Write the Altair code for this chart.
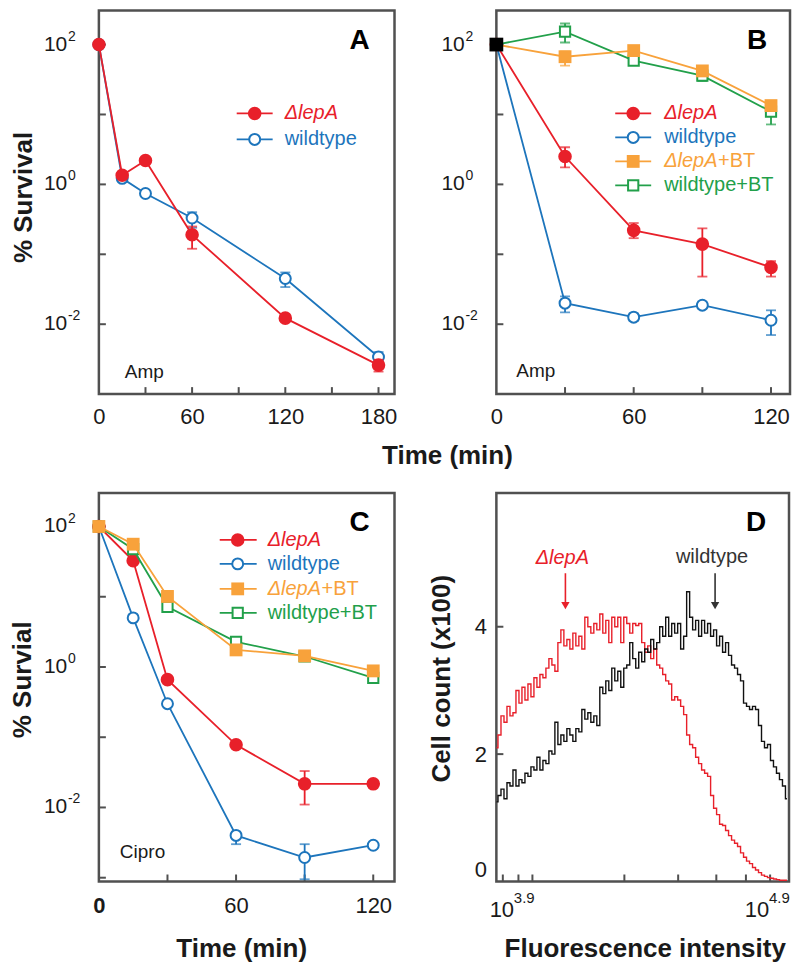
import altair as alt
import pandas as pd
import numpy as np

FONT = "Liberation Sans"
RED = "#E8202A"
BLUE = "#1D75BC"
ORANGE = "#F8A23B"
GREEN = "#22A04A"
INK = "#1A1A1A"
FRAME = "#505050"

# ---------------- Panel A (Amp) ----------------
a_time = [0, 15, 30, 60, 120, 180]
a_lep = [100, 1.35, 2.2, 0.19, 0.0122, 0.0026]
a_lep_lo = [None, None, None, 0.12, None, 0.0021]
a_lep_hi = [None, None, None, 0.25, None, 0.0031]
a_wt = [100, 1.22, 0.74, 0.33, 0.045, 0.0034]
a_wt_lo = [None, None, None, 0.24, 0.034, 0.0029]
a_wt_hi = [None, None, None, 0.40, 0.055, 0.0040]

# ---------------- Panel B (Amp, +BT) ----------------
b_time = [0, 30, 60, 90, 120]
b_lep = [100, 2.5, 0.22, 0.14, 0.065]
b_lep_lo = [None, 1.75, 0.17, 0.048, 0.048]
b_lep_hi = [None, 3.4, 0.28, 0.235, 0.08]
b_wt = [100, 0.020, 0.0126, 0.0187, 0.0114]
b_wt_lo = [None, 0.0148, 0.0112, 0.0168, 0.0070]
b_wt_hi = [None, 0.025, 0.0142, 0.0210, 0.0158]
b_lepbt = [100, 67, 82, 42, 13.4]
b_lepbt_lo = [None, 50, 75, 38, 12]
b_lepbt_hi = [None, 80, 90, 46, 15]
b_wtbt = [100, 153, 59, 36, 11]
b_wtbt_lo = [None, 107, 55, 30, 7.2]
b_wtbt_hi = [None, 200, 63, 40, 12]
b_start_time = [0]
b_start_val = [100]

# ---------------- Panel C (Cipro) ----------------
c_time = [0, 15, 30, 60, 90, 120]
c_lep = [100, 32.5, 0.66, 0.078, 0.0217, 0.0217]
c_lep_lo = [None, None, None, None, 0.011, None]
c_lep_hi = [None, None, None, None, 0.033, None]
c_wt = [100, 5.0, 0.30, 0.0040, 0.00194, 0.0029]
c_wt_lo = [None, None, None, 0.0030, 0.00095, None]
c_wt_hi = [None, None, None, 0.0045, 0.0030, None]
c_lepbt = [100, 56, 10.1, 1.75, 1.44, 0.88]
c_wtbt = [100, 47.5, 7.2, 2.28, 1.41, 0.70]
c_none = [None] * 6

# ---------------- Panel D (flow cytometry histogram) ----------------
d_bins_log = np.linspace(3.8824, 4.8333, 98)  # log10 fluorescence bin centres
d_red = [2.10, 2.30, 2.60, 2.50, 2.75, 2.60, 2.65, 3.00, 2.80, 3.05,
         2.85, 3.10, 2.90, 3.20, 3.05, 3.25, 3.20, 3.35, 3.50, 3.40,
         3.30, 3.75, 3.95, 3.70, 3.80,
         3.65, 3.90, 3.70, 3.85, 3.65, 4.15, 4.00, 3.90, 4.05, 3.95,
         4.20, 3.90, 4.10, 3.75, 4.15, 4.00, 4.15, 3.75, 4.15, 4.05,
         3.90, 4.05, 4.02, 4.05,
         3.75, 3.60, 3.70, 3.50, 3.65, 3.40, 3.35, 3.25, 3.15, 3.10,
         2.85, 2.90, 2.85, 2.75, 2.62, 2.30, 2.15, 2.10, 1.95, 1.85,
         1.75, 1.70, 1.65, 1.35,
         1.15, 1.05, 0.90, 0.88, 0.80, 0.72, 0.65, 0.60, 0.55, 0.45,
         0.38, 0.32, 0.28, 0.22, 0.18, 0.14, 0.10, 0.08, 0.06, 0.05,
         0.04, 0.03, 0.02, 0.02, 0.02]
d_black = [1.25, 1.35, 1.45, 1.30, 1.55, 1.50, 1.75, 1.50, 1.60, 1.55,
           1.70, 1.65, 1.80, 1.75, 1.95, 1.75, 1.90, 1.85, 2.05, 2.00,
           2.50, 2.15, 2.30, 2.20, 2.40,
           2.30, 2.20, 2.40, 2.35, 2.70, 2.55, 2.65, 2.50, 2.60, 2.45,
           3.05, 2.95, 3.15, 3.00, 3.35, 3.15, 3.30, 3.05, 3.35, 3.40,
           3.75, 3.50, 3.35, 3.60,
           3.45, 3.65, 3.60, 3.80, 3.65, 3.75, 4.00, 3.85, 4.15, 3.85,
           4.05, 3.90, 4.05, 3.65, 3.85, 4.55, 4.15, 3.95, 4.10, 3.85,
           4.10, 3.90, 4.05, 3.85,
           3.95, 3.70, 3.85, 3.60, 3.75, 3.55, 3.40, 3.35, 3.25, 3.15,
           2.80, 2.75, 2.70, 2.75, 2.70, 2.45, 2.20, 2.10, 2.15, 1.90,
           1.80, 1.70, 1.60, 1.50, 1.30]
d_xtick_intensity = [8000, 9000, 10000, 20000, 30000, 40000, 50000, 60000]
d_ytick_vals = [2, 4]
d_xlabel_pos = [3.9, 4.735]
d_xlabel_exp = ["3.9", "4.9"]
d_annot_x = [4.098, 4.588]
d_annot_y = [5.08, 5.09]
d_arrow_x = [4.108, 4.598]
d_arrow_top = 4.84
d_arrow_head = 4.33

STY = {
    "lep": dict(color=RED, shape="circle", open=False, size=185, ital="\u0394lepA", rest=""),
    "wt": dict(color=BLUE, shape="circle", open=True, size=120, ital="", rest="wildtype"),
    "lepbt": dict(color=ORANGE, shape="square", open=False, size=165, ital="\u0394lepA", rest="+BT"),
    "wtbt": dict(color=GREEN, shape="square", open=True, size=105, ital="", rest="wildtype+BT"),
}


def one():
    return alt.Chart(pd.DataFrame({"k": [0]}))


def marker(sty):
    if sty["open"]:
        return dict(shape=sty["shape"], filled=True, fill="white", stroke=sty["color"],
                    strokeWidth=2, size=sty["size"], opacity=1)
    return dict(shape=sty["shape"], filled=True, fill=sty["color"], strokeWidth=0,
                size=sty["size"], opacity=1)


def text(txt, x, y, size=20, color=INK, weight="normal", style="normal",
         align="left", baseline="middle", angle=0):
    return one().mark_text(text=txt, font=FONT, fontSize=size, color=color,
                           fontWeight=weight, fontStyle=style, align=align,
                           baseline=baseline, angle=angle).encode(
        x=alt.value(x), y=alt.value(y))


def legend_layers(keys, x0, x1, xm, xt, ys, fs=20):
    layers = []
    for k, y in zip(keys, ys):
        s = STY[k]
        layers.append(one().mark_rule(color=s["color"], strokeWidth=1.8).encode(
            x=alt.value(x0), x2=alt.value(x1), y=alt.value(y)))
        layers.append(one().mark_point(**marker(s)).encode(x=alt.value(xm), y=alt.value(y)))
        off = 0
        if s["ital"]:
            layers.append(text(s["ital"], xt, y, fs, s["color"], style="italic"))
            off = 54
        if s["rest"]:
            layers.append(text(s["rest"], xt + off, y, fs, s["color"]))
    return layers


def survival_panel(W, H, ydom, xmax, xlab_vals, xtick_vals, ytick_vals, series,
                   letter, drug, drug_pos, leg, label_pad=12, zero_bold=False,
                   extra=None):
    xscale = alt.Scale(domain=[0, xmax], nice=False, zero=False)
    yscale = alt.Scale(type="log", domain=ydom, nice=False)
    axis_kw = dict(values=xlab_vals, ticks=False, domain=False, grid=False,
                   labelPadding=label_pad, labelFontSize=22, labelFont=FONT,
                   labelColor=INK, title=None, labelOverlap=False, labelFlush=False,
                   format="d")
    if zero_bold:
        axis_kw["labelFontWeight"] = {"condition": {"test": "datum.value === 0", "value": "bold"},
                                      "value": "normal"}
    xaxis = alt.Axis(**axis_kw)

    def X(f):
        return alt.X(f, scale=xscale, axis=xaxis)

    def Y(f):
        return alt.Y(f, scale=yscale, axis=None)

    layers = []
    layers.append(alt.Chart(pd.DataFrame({"v": ytick_vals})).mark_rule(
        color=FRAME, strokeWidth=2).encode(y=Y("v:Q"), x=alt.value(0), x2=alt.value(7)))
    layers.append(alt.Chart(pd.DataFrame({"t": xtick_vals})).mark_rule(
        color=FRAME, strokeWidth=2).encode(x=X("t:Q"), y=alt.value(H), y2=alt.value(H - 7)))
    ylab = pd.DataFrame({"v": [100, 1, 0.01], "exp": ["2", "0", "-2"]})
    layers.append(alt.Chart(ylab).mark_text(text="10", font=FONT, fontSize=21, color=INK,
                                            align="left", baseline="middle").encode(
        y=Y("v:Q"), x=alt.value(-55)))
    layers.append(alt.Chart(ylab).mark_text(font=FONT, fontSize=14, color=INK,
                                            align="left", baseline="middle", dy=-8).encode(
        y=Y("v:Q"), x=alt.value(-31), text="exp:N"))

    for key, t, v, lo, hi in series:
        s = STY[key]
        df = pd.DataFrame({"t": t, "v": v, "lo": lo, "hi": hi})
        layers.append(alt.Chart(df).mark_line(color=s["color"], strokeWidth=1.8).encode(
            x=X("t:Q"), y=Y("v:Q")))
        err = df.dropna(subset=["lo"])
        if len(err):
            layers.append(alt.Chart(err).mark_rule(color=s["color"], strokeWidth=1.8).encode(
                x=X("t:Q"), y=Y("lo:Q"), y2="hi:Q"))
            caps = pd.concat([err[["t", "lo"]].rename(columns={"lo": "c"}),
                              err[["t", "hi"]].rename(columns={"hi": "c"})])
            layers.append(alt.Chart(caps).mark_tick(color=s["color"], orient="horizontal",
                                                    size=10, thickness=1.8).encode(
                x=X("t:Q"), y=Y("c:Q")))
        layers.append(alt.Chart(df).mark_point(**marker(s)).encode(x=X("t:Q"), y=Y("v:Q")))

    if extra is not None:
        layers += extra(X, Y)

    layers.append(text(letter, 261, 30, 28, "#000", weight="bold", align="center"))
    layers.append(text(drug, drug_pos[0], drug_pos[1], 19, INK))
    layers += legend_layers(*leg)
    return layers


# ---- Panel A ----
A_layers = survival_panel(
    296, 384, [1e-3, 306], 190.3, [0, 60, 120, 180], [30, 60, 90, 120, 150, 180],
    [100, 10, 1, 0.1, 0.01],
    [("wt", a_time, a_wt, a_wt_lo, a_wt_hi), ("lep", a_time, a_lep, a_lep_lo, a_lep_hi)],
    "A", "Amp", (26, 362),
    (["lep", "wt"], 138, 174, 156, 186, [103, 129]))
A_layers.append(text("% Survival", -75, 187, 26, INK, weight="bold", align="center", angle=270))
A_layers.append(text("Time (min)", 349, 446, 26, INK, weight="bold", align="center"))
A = alt.layer(*A_layers).properties(width=296, height=384)


# ---- Panel B ----
def b_extra(X, Y):
    df = pd.DataFrame({"t": b_start_time, "v": b_start_val})
    return [alt.Chart(df).mark_point(shape="square", filled=True, fill="#000", strokeWidth=0,
                                     size=190, opacity=1).encode(x=X("t:Q"), y=Y("v:Q"))]


B_layers = survival_panel(
    294, 384, [1e-3, 306], 128.3, [0, 60, 120], [30, 60, 90, 120],
    [100, 10, 1, 0.1, 0.01],
    [("wt", b_time, b_wt, b_wt_lo, b_wt_hi), ("lep", b_time, b_lep, b_lep_lo, b_lep_hi),
     ("wtbt", b_time, b_wtbt, b_wtbt_lo, b_wtbt_hi),
     ("lepbt", b_time, b_lepbt, b_lepbt_lo, b_lepbt_hi)],
    "B", "Amp", (20, 361),
    (["lep", "wt", "lepbt", "wtbt"], 119, 155, 137, 168, [103, 127, 151, 175]),
    extra=b_extra)
B = alt.layer(*B_layers).properties(width=294, height=384)

# ---- Panel C ----
C_layers = survival_panel(
    296, 389, [8.83e-4, 300], 129.3, [0, 60, 120], [30, 60, 90, 120],
    [100, 10, 1, 0.1, 0.01, 0.001],
    [("wt", c_time, c_wt, c_wt_lo, c_wt_hi), ("lep", c_time, c_lep, c_lep_lo, c_lep_hi),
     ("wtbt", c_time, c_wtbt, c_none, c_none), ("lepbt", c_time, c_lepbt, c_none, c_none)],
    "C", "Cipro", (21, 359),
    (["lep", "wt", "lepbt", "wtbt"], 121, 158, 139, 169, [47, 71, 96, 120]),
    label_pad=14, zero_bold=True)
C_layers.append(text("% Survial", -76, 187, 26, INK, weight="bold", align="center", angle=270))
C_layers.append(text("Time (min)", 143, 457, 26, INK, weight="bold", align="center"))
C = alt.layer(*C_layers).properties(width=296, height=389)

# ---- Panel D ----
DW, DH = 293, 389
dxs = alt.Scale(domain=[3.882, 4.840], nice=False, zero=False)
dys = alt.Scale(domain=[0, 6.1], nice=False, zero=False)
dyaxis = alt.Axis(values=[0, 2, 4], ticks=False, domain=False, grid=False, labelPadding=10,
                  labelFontSize=22, labelFont=FONT, labelColor=INK, labelFlush=True,
                  title=None)


def DX(f):
    return alt.X(f, scale=dxs, axis=None)


def DY(f):
    return alt.Y(f, scale=dys, axis=dyaxis)


hist = pd.DataFrame({"x": d_bins_log, "lep": d_red, "wt": d_black})
D_layers = [
    alt.Chart(pd.DataFrame({"x": np.log10(d_xtick_intensity)})).mark_rule(
        color=FRAME, strokeWidth=2).encode(x=DX("x:Q"), y=alt.value(DH), y2=alt.value(DH - 7)),
    alt.Chart(pd.DataFrame({"v": d_ytick_vals})).mark_rule(color=FRAME, strokeWidth=2).encode(
        y=DY("v:Q"), x=alt.value(0), x2=alt.value(7)),
    alt.Chart(hist).mark_line(interpolate="step", color=RED, strokeWidth=1.4).encode(
        x=DX("x:Q"), y=DY("lep:Q")),
    alt.Chart(hist).mark_line(interpolate="step", color="#111111", strokeWidth=1.4).encode(
        x=DX("x:Q"), y=DY("wt:Q")),
]
dlab = pd.DataFrame({"x": d_xlabel_pos, "exp": d_xlabel_exp})
D_layers.append(alt.Chart(dlab).mark_text(text="10", font=FONT, fontSize=22, color=INK,
                                          align="center", baseline="middle").encode(
    x=DX("x:Q"), y=alt.value(DH + 29)))
D_layers.append(alt.Chart(dlab).mark_text(font=FONT, fontSize=15, color=INK, align="left",
                                          baseline="middle", dx=12).encode(
    x=DX("x:Q"), y=alt.value(DH + 17), text="exp:N"))
annot_colors = [RED, "#333333"]
annot_text = ["\u0394lepA", "wildtype"]
annot_style = ["italic", "normal"]
for i in range(2):
    a_df = pd.DataFrame({"x": [d_annot_x[i]], "y": [d_annot_y[i]]})
    D_layers.append(alt.Chart(a_df).mark_text(text=annot_text[i], font=FONT, fontSize=20,
                                              color=annot_colors[i], fontStyle=annot_style[i],
                                              align="center", baseline="middle").encode(
        x=DX("x:Q"), y=DY("y:Q")))
    arr = pd.DataFrame({"x": [d_arrow_x[i]], "y0": [d_arrow_top], "y1": [d_arrow_head]})
    D_layers.append(alt.Chart(arr).mark_rule(color=annot_colors[i], strokeWidth=1.6).encode(
        x=DX("x:Q"), y=DY("y0:Q"), y2="y1:Q"))
    D_layers.append(alt.Chart(arr).mark_point(shape="triangle-down", filled=True,
                                              fill=annot_colors[i], strokeWidth=0, size=70,
                                              opacity=1).encode(x=DX("x:Q"), y=DY("y1:Q")))
D_layers.append(text("D", 260, 30, 28, "#000", weight="bold", align="center"))
D_layers.append(text("Cell count (x100)", -54, 186, 26, INK, weight="bold", align="center",
                     angle=270))
D_layers.append(text("Fluorescence intensity", 149, 457, 26, INK, weight="bold",
                     align="center"))
D = alt.layer(*D_layers).properties(width=DW, height=DH)

chart = alt.concat(A, B, C, D, columns=2, spacing={"row": 99, "column": 102},
                   bounds="flush").properties(padding=0).configure(
    font=FONT, view=alt.ViewConfig(stroke=FRAME, strokeWidth=2.5))

chart.save("out.html", embed_options={"renderer": "svg", "actions": False})
